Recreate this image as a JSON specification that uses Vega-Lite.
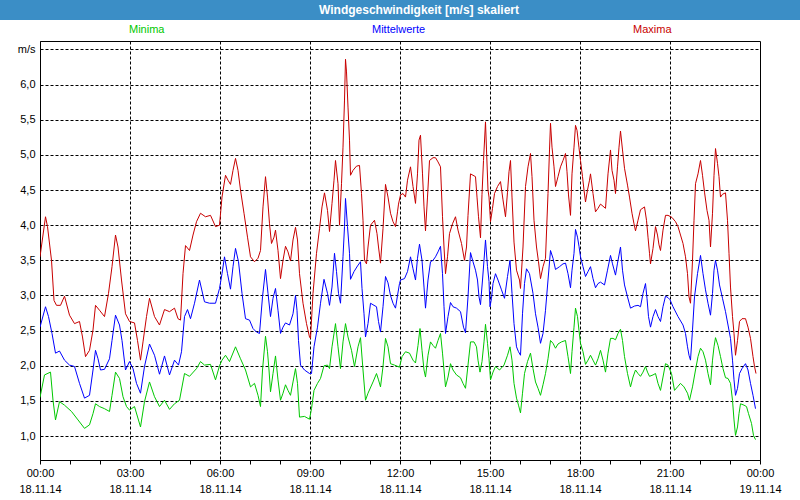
{
  "$schema": "https://vega.github.io/schema/vega-lite/v6.json",
  "autosize": {"type": "none"},
  "padding": {"left": 40, "top": 41, "right": 40, "bottom": 40},
  "background": "white",
  "width": 720,
  "height": 419,
  "view": {"stroke": "black", "strokeWidth": 1, "fill": "white"},
  "config": {"font": "Liberation Sans"},
  "data": {"values": [
{"s":"Maxima","t":0,"v":3.55},{"s":"Maxima","t":11,"v":4.12},{"s":"Maxima","t":15,"v":3.98},{"s":"Maxima","t":23,"v":3.5},{"s":"Maxima","t":28,"v":2.93},{"s":"Maxima","t":33,"v":2.86},{"s":"Maxima","t":41,"v":2.86},{"s":"Maxima","t":49,"v":2.99},{"s":"Maxima","t":59,"v":2.72},{"s":"Maxima","t":69,"v":2.6},{"s":"Maxima","t":79,"v":2.63},{"s":"Maxima","t":85,"v":2.41},{"s":"Maxima","t":91,"v":2.13},{"s":"Maxima","t":99,"v":2.22},{"s":"Maxima","t":106,"v":2.51},{"s":"Maxima","t":111,"v":2.86},{"s":"Maxima","t":119,"v":2.79},{"s":"Maxima","t":129,"v":2.7},{"s":"Maxima","t":137,"v":3.03},{"s":"Maxima","t":144,"v":3.41},{"s":"Maxima","t":151,"v":3.86},{"s":"Maxima","t":156,"v":3.69},{"s":"Maxima","t":163,"v":3.22},{"s":"Maxima","t":171,"v":2.74},{"s":"Maxima","t":179,"v":2.63},
{"s":"Maxima","t":189,"v":2.61},{"s":"Maxima","t":195,"v":2.36},{"s":"Maxima","t":201,"v":2.08},{"s":"Maxima","t":206,"v":2.34},{"s":"Maxima","t":213,"v":2.7},{"s":"Maxima","t":219,"v":2.96},{"s":"Maxima","t":229,"v":2.7},{"s":"Maxima","t":239,"v":2.58},{"s":"Maxima","t":249,"v":2.8},{"s":"Maxima","t":259,"v":2.77},{"s":"Maxima","t":269,"v":2.82},{"s":"Maxima","t":276,"v":2.67},{"s":"Maxima","t":281,"v":2.65},{"s":"Maxima","t":286,"v":3.31},{"s":"Maxima","t":291,"v":3.71},{"s":"Maxima","t":299,"v":3.64},{"s":"Maxima","t":306,"v":3.86},{"s":"Maxima","t":313,"v":4.05},{"s":"Maxima","t":321,"v":4.17},{"s":"Maxima","t":331,"v":4.12},{"s":"Maxima","t":341,"v":4.14},{"s":"Maxima","t":351,"v":3.98},{"s":"Maxima","t":359,"v":4.0},
{"s":"Maxima","t":364,"v":4.4},{"s":"Maxima","t":371,"v":4.71},{"s":"Maxima","t":376,"v":4.64},{"s":"Maxima","t":381,"v":4.58},{"s":"Maxima","t":386,"v":4.78},{"s":"Maxima","t":391,"v":4.95},{"s":"Maxima","t":396,"v":4.78},{"s":"Maxima","t":401,"v":4.5},{"s":"Maxima","t":408,"v":4.17},{"s":"Maxima","t":415,"v":3.83},{"s":"Maxima","t":421,"v":3.55},{"s":"Maxima","t":429,"v":3.48},{"s":"Maxima","t":436,"v":3.53},{"s":"Maxima","t":441,"v":3.64},{"s":"Maxima","t":446,"v":4.26},{"s":"Maxima","t":451,"v":4.69},{"s":"Maxima","t":455,"v":4.4},{"s":"Maxima","t":459,"v":4.02},{"s":"Maxima","t":463,"v":3.74},{"s":"Maxima","t":468,"v":3.83},{"s":"Maxima","t":471,"v":3.93},{"s":"Maxima","t":476,"v":3.64},{"s":"Maxima","t":481,"v":3.24},{"s":"Maxima","t":486,"v":3.5},{"s":"Maxima","t":491,"v":3.7},{"s":"Maxima","t":496,"v":3.62},{"s":"Maxima","t":501,"v":3.49},{"s":"Maxima","t":506,"v":3.79},{"s":"Maxima","t":511,"v":3.97},{"s":"Maxima","t":515,"v":3.79},{"s":"Maxima","t":519,"v":3.31},{"s":"Maxima","t":526,"v":2.89},{"s":"Maxima","t":533,"v":2.6},{"s":"Maxima","t":539,"v":2.41},
{"s":"Maxima","t":541,"v":2.39},{"s":"Maxima","t":546,"v":3.03},{"s":"Maxima","t":553,"v":3.6},{"s":"Maxima","t":559,"v":3.95},{"s":"Maxima","t":564,"v":4.26},{"s":"Maxima","t":569,"v":4.46},{"s":"Maxima","t":575,"v":4.21},{"s":"Maxima","t":579,"v":3.91},{"s":"Maxima","t":584,"v":4.31},{"s":"Maxima","t":588,"v":4.64},{"s":"Maxima","t":591,"v":4.92},{"s":"Maxima","t":596,"v":4.59},{"s":"Maxima","t":599,"v":4.0},{"s":"Maxima","t":603,"v":4.59},{"s":"Maxima","t":606,"v":5.11},{"s":"Maxima","t":609,"v":5.78},{"s":"Maxima","t":611,"v":6.36},{"s":"Maxima","t":613,"v":6.18},{"s":"Maxima","t":616,"v":5.68},{"s":"Maxima","t":619,"v":5.21},{"s":"Maxima","t":621,"v":4.71},{"s":"Maxima","t":626,"v":4.78},{"s":"Maxima","t":633,"v":4.84},{"s":"Maxima","t":639,"v":4.85},{"s":"Maxima","t":643,"v":4.45},{"s":"Maxima","t":646,"v":4.07},{"s":"Maxima","t":649,"v":3.5},{"s":"Maxima","t":653,"v":3.45},{"s":"Maxima","t":656,"v":3.69},{"s":"Maxima","t":661,"v":4.0},{"s":"Maxima","t":669,"v":4.07},{"s":"Maxima","t":674,"v":3.88},{"s":"Maxima","t":677,"v":3.69},{"s":"Maxima","t":681,"v":3.46},{"s":"Maxima","t":686,"v":3.95},{"s":"Maxima","t":691,"v":4.58},{"s":"Maxima","t":696,"v":4.4},{"s":"Maxima","t":701,"v":4.17},{"s":"Maxima","t":706,"v":4.05},{"s":"Maxima","t":711,"v":3.98},{"s":"Maxima","t":715,"v":4.19},{"s":"Maxima","t":717,"v":4.3},
{"s":"Maxima","t":721,"v":4.43},{"s":"Maxima","t":726,"v":4.45},{"s":"Maxima","t":731,"v":4.4},{"s":"Maxima","t":735,"v":4.64},{"s":"Maxima","t":741,"v":4.83},{"s":"Maxima","t":746,"v":4.55},{"s":"Maxima","t":751,"v":4.31},{"s":"Maxima","t":755,"v":4.73},{"s":"Maxima","t":758,"v":5.21},{"s":"Maxima","t":761,"v":5.28},{"s":"Maxima","t":765,"v":4.73},{"s":"Maxima","t":768,"v":4.26},{"s":"Maxima","t":771,"v":3.92},{"s":"Maxima","t":775,"v":4.4},{"s":"Maxima","t":779,"v":4.92},{"s":"Maxima","t":786,"v":4.96},{"s":"Maxima","t":791,"v":4.96},{"s":"Maxima","t":796,"v":4.9},{"s":"Maxima","t":801,"v":4.83},{"s":"Maxima","t":805,"v":4.12},{"s":"Maxima","t":808,"v":3.69},{"s":"Maxima","t":811,"v":3.31},{"s":"Maxima","t":815,"v":3.55},{"s":"Maxima","t":819,"v":3.88},{"s":"Maxima","t":825,"v":4.02},{"s":"Maxima","t":831,"v":4.12},{"s":"Maxima","t":836,"v":3.93},{"s":"Maxima","t":843,"v":3.74},{"s":"Maxima","t":849,"v":3.5},{"s":"Maxima","t":853,"v":3.69},{"s":"Maxima","t":856,"v":4.14},{"s":"Maxima","t":861,"v":4.73},{"s":"Maxima","t":866,"v":4.71},{"s":"Maxima","t":871,"v":4.69},{"s":"Maxima","t":874,"v":4.4},{"s":"Maxima","t":877,"v":4.12},{"s":"Maxima","t":881,"v":3.82},{"s":"Maxima","t":884,"v":4.44},{"s":"Maxima","t":887,"v":4.92},{"s":"Maxima","t":891,"v":5.47},{"s":"Maxima","t":893,"v":5.07},{"s":"Maxima","t":896,"v":4.5},{"s":"Maxima","t":898,"v":4.4},{"s":"Maxima","t":901,"v":4.05},
{"s":"Maxima","t":905,"v":4.24},{"s":"Maxima","t":909,"v":4.45},{"s":"Maxima","t":915,"v":4.55},{"s":"Maxima","t":921,"v":4.62},{"s":"Maxima","t":926,"v":4.36},{"s":"Maxima","t":931,"v":4.12},{"s":"Maxima","t":935,"v":4.47},{"s":"Maxima","t":938,"v":4.76},{"s":"Maxima","t":941,"v":4.92},{"s":"Maxima","t":944,"v":4.4},{"s":"Maxima","t":948,"v":3.76},{"s":"Maxima","t":953,"v":3.36},{"s":"Maxima","t":959,"v":3.22},{"s":"Maxima","t":961,"v":3.1},{"s":"Maxima","t":966,"v":3.69},{"s":"Maxima","t":971,"v":4.55},{"s":"Maxima","t":976,"v":4.83},{"s":"Maxima","t":981,"v":5.02},{"s":"Maxima","t":984,"v":4.69},{"s":"Maxima","t":988,"v":4.07},{"s":"Maxima","t":993,"v":3.69},{"s":"Maxima","t":997,"v":3.48},{"s":"Maxima","t":1001,"v":3.24},{"s":"Maxima","t":1006,"v":3.41},{"s":"Maxima","t":1011,"v":3.53},{"s":"Maxima","t":1016,"v":4.45},{"s":"Maxima","t":1019,"v":5.07},{"s":"Maxima","t":1021,"v":5.45},{"s":"Maxima","t":1024,"v":5.11},{"s":"Maxima","t":1028,"v":4.83},{"s":"Maxima","t":1031,"v":4.55},{"s":"Maxima","t":1036,"v":4.69},{"s":"Maxima","t":1041,"v":4.83},{"s":"Maxima","t":1046,"v":4.92},{"s":"Maxima","t":1051,"v":5.02},{"s":"Maxima","t":1054,"v":4.76},{"s":"Maxima","t":1057,"v":4.43},{"s":"Maxima","t":1061,"v":4.14},{"s":"Maxima","t":1064,"v":4.73},{"s":"Maxima","t":1068,"v":5.11},{"s":"Maxima","t":1071,"v":5.42},{"s":"Maxima","t":1074,"v":5.35},{"s":"Maxima","t":1078,"v":5.1},
{"s":"Maxima","t":1081,"v":4.92},{"s":"Maxima","t":1085,"v":4.69},{"s":"Maxima","t":1088,"v":4.5},{"s":"Maxima","t":1091,"v":4.33},{"s":"Maxima","t":1095,"v":4.5},{"s":"Maxima","t":1099,"v":4.64},{"s":"Maxima","t":1101,"v":4.73},{"s":"Maxima","t":1106,"v":4.45},{"s":"Maxima","t":1111,"v":4.19},{"s":"Maxima","t":1116,"v":4.24},{"s":"Maxima","t":1121,"v":4.3},{"s":"Maxima","t":1131,"v":4.24},{"s":"Maxima","t":1136,"v":4.73},{"s":"Maxima","t":1141,"v":5.07},{"s":"Maxima","t":1144,"v":4.78},{"s":"Maxima","t":1148,"v":4.64},{"s":"Maxima","t":1151,"v":4.45},{"s":"Maxima","t":1155,"v":4.83},{"s":"Maxima","t":1158,"v":5.11},{"s":"Maxima","t":1161,"v":5.34},{"s":"Maxima","t":1165,"v":5.07},{"s":"Maxima","t":1169,"v":4.81},{"s":"Maxima","t":1175,"v":4.57},{"s":"Maxima","t":1179,"v":4.4},{"s":"Maxima","t":1184,"v":4.17},{"s":"Maxima","t":1188,"v":4.02},{"s":"Maxima","t":1191,"v":3.92},{"s":"Maxima","t":1196,"v":4.07},{"s":"Maxima","t":1201,"v":4.22},{"s":"Maxima","t":1209,"v":4.26},{"s":"Maxima","t":1213,"v":4.07},{"s":"Maxima","t":1216,"v":3.83},{"s":"Maxima","t":1219,"v":3.6},{"s":"Maxima","t":1221,"v":3.45},{"s":"Maxima","t":1226,"v":3.67},{"s":"Maxima","t":1231,"v":3.98},{"s":"Maxima","t":1235,"v":3.86},{"s":"Maxima","t":1238,"v":3.72},{"s":"Maxima","t":1241,"v":3.64},{"s":"Maxima","t":1246,"v":3.93},{"s":"Maxima","t":1251,"v":4.14},{"s":"Maxima","t":1256,"v":4.14},
{"s":"Maxima","t":1264,"v":4.11},{"s":"Maxima","t":1271,"v":4.05},{"s":"Maxima","t":1276,"v":3.98},{"s":"Maxima","t":1281,"v":3.86},{"s":"Maxima","t":1286,"v":3.74},{"s":"Maxima","t":1291,"v":3.55},{"s":"Maxima","t":1295,"v":3.31},{"s":"Maxima","t":1298,"v":2.98},{"s":"Maxima","t":1301,"v":2.89},{"s":"Maxima","t":1305,"v":3.5},{"s":"Maxima","t":1308,"v":4.07},{"s":"Maxima","t":1311,"v":4.59},{"s":"Maxima","t":1316,"v":4.73},{"s":"Maxima","t":1321,"v":4.92},{"s":"Maxima","t":1325,"v":4.71},{"s":"Maxima","t":1329,"v":4.47},{"s":"Maxima","t":1334,"v":4.21},{"s":"Maxima","t":1338,"v":4.07},{"s":"Maxima","t":1341,"v":3.69},{"s":"Maxima","t":1345,"v":4.17},{"s":"Maxima","t":1348,"v":4.71},{"s":"Maxima","t":1351,"v":5.09},{"s":"Maxima","t":1355,"v":4.88},{"s":"Maxima","t":1358,"v":4.69},{"s":"Maxima","t":1361,"v":4.4},{"s":"Maxima","t":1365,"v":4.44},{"s":"Maxima","t":1371,"v":4.46},{"s":"Maxima","t":1375,"v":4.07},{"s":"Maxima","t":1378,"v":3.6},{"s":"Maxima","t":1381,"v":3.12},{"s":"Maxima","t":1385,"v":2.7},{"s":"Maxima","t":1388,"v":2.46},{"s":"Maxima","t":1391,"v":2.15},{"s":"Maxima","t":1395,"v":2.36},{"s":"Maxima","t":1399,"v":2.63},{"s":"Maxima","t":1404,"v":2.67},{"s":"Maxima","t":1411,"v":2.67},{"s":"Maxima","t":1416,"v":2.55},{"s":"Maxima","t":1421,"v":2.39},{"s":"Maxima","t":1426,"v":2.13},{"s":"Maxima","t":1429,"v":1.99},{"s":"Maxima","t":1432,"v":1.89},
{"s":"Mittelwerte","t":0,"v":2.55},{"s":"Mittelwerte","t":11,"v":2.84},{"s":"Mittelwerte","t":17,"v":2.7},{"s":"Mittelwerte","t":24,"v":2.46},{"s":"Mittelwerte","t":31,"v":2.18},{"s":"Mittelwerte","t":39,"v":2.21},{"s":"Mittelwerte","t":49,"v":2.08},{"s":"Mittelwerte","t":59,"v":2.01},{"s":"Mittelwerte","t":69,"v":1.99},{"s":"Mittelwerte","t":79,"v":1.75},{"s":"Mittelwerte","t":89,"v":1.54},{"s":"Mittelwerte","t":99,"v":1.58},{"s":"Mittelwerte","t":106,"v":1.94},{"s":"Mittelwerte","t":111,"v":2.22},{"s":"Mittelwerte","t":116,"v":2.1},{"s":"Mittelwerte","t":121,"v":1.94},{"s":"Mittelwerte","t":129,"v":1.95},{"s":"Mittelwerte","t":139,"v":2.1},{"s":"Mittelwerte","t":144,"v":2.36},{"s":"Mittelwerte","t":151,"v":2.72},{"s":"Mittelwerte","t":159,"v":2.58},{"s":"Mittelwerte","t":164,"v":2.36},{"s":"Mittelwerte","t":171,"v":1.94},{"s":"Mittelwerte","t":179,"v":2.06},
{"s":"Mittelwerte","t":186,"v":1.96},{"s":"Mittelwerte","t":193,"v":1.75},{"s":"Mittelwerte","t":201,"v":1.61},{"s":"Mittelwerte","t":209,"v":1.99},{"s":"Mittelwerte","t":219,"v":2.31},{"s":"Mittelwerte","t":229,"v":2.15},{"s":"Mittelwerte","t":239,"v":1.88},{"s":"Mittelwerte","t":249,"v":2.14},{"s":"Mittelwerte","t":259,"v":1.87},{"s":"Mittelwerte","t":269,"v":2.08},{"s":"Mittelwerte","t":277,"v":2.01},{"s":"Mittelwerte","t":283,"v":2.2},{"s":"Mittelwerte","t":289,"v":2.7},{"s":"Mittelwerte","t":295,"v":2.8},{"s":"Mittelwerte","t":301,"v":2.67},{"s":"Mittelwerte","t":309,"v":2.89},{"s":"Mittelwerte","t":319,"v":3.22},{"s":"Mittelwerte","t":329,"v":2.91},{"s":"Mittelwerte","t":339,"v":2.89},{"s":"Mittelwerte","t":351,"v":2.89},{"s":"Mittelwerte","t":359,"v":3.1},
{"s":"Mittelwerte","t":364,"v":3.31},{"s":"Mittelwerte","t":369,"v":3.55},{"s":"Mittelwerte","t":375,"v":3.31},{"s":"Mittelwerte","t":381,"v":3.09},{"s":"Mittelwerte","t":386,"v":3.41},{"s":"Mittelwerte","t":391,"v":3.67},{"s":"Mittelwerte","t":397,"v":3.48},{"s":"Mittelwerte","t":404,"v":3.03},{"s":"Mittelwerte","t":411,"v":2.67},{"s":"Mittelwerte","t":419,"v":2.65},{"s":"Mittelwerte","t":426,"v":2.53},{"s":"Mittelwerte","t":433,"v":2.48},{"s":"Mittelwerte","t":439,"v":2.46},{"s":"Mittelwerte","t":445,"v":2.98},{"s":"Mittelwerte","t":451,"v":3.37},{"s":"Mittelwerte","t":456,"v":3.03},{"s":"Mittelwerte","t":461,"v":2.7},{"s":"Mittelwerte","t":466,"v":2.96},{"s":"Mittelwerte","t":471,"v":3.1},{"s":"Mittelwerte","t":476,"v":2.79},{"s":"Mittelwerte","t":481,"v":2.46},{"s":"Mittelwerte","t":486,"v":2.55},{"s":"Mittelwerte","t":491,"v":2.61},{"s":"Mittelwerte","t":499,"v":2.58},{"s":"Mittelwerte","t":506,"v":2.74},{"s":"Mittelwerte","t":511,"v":3.0},{"s":"Mittelwerte","t":514,"v":2.79},{"s":"Mittelwerte","t":517,"v":2.36},{"s":"Mittelwerte","t":521,"v":2.01},{"s":"Mittelwerte","t":529,"v":1.94},{"s":"Mittelwerte","t":539,"v":1.89},
{"s":"Mittelwerte","t":543,"v":1.89},{"s":"Mittelwerte","t":548,"v":2.27},{"s":"Mittelwerte","t":555,"v":2.55},{"s":"Mittelwerte","t":561,"v":2.89},{"s":"Mittelwerte","t":568,"v":3.23},{"s":"Mittelwerte","t":575,"v":3.03},{"s":"Mittelwerte","t":579,"v":2.86},{"s":"Mittelwerte","t":584,"v":3.12},{"s":"Mittelwerte","t":589,"v":3.6},{"s":"Mittelwerte","t":593,"v":3.34},{"s":"Mittelwerte","t":597,"v":3.03},{"s":"Mittelwerte","t":601,"v":2.89},{"s":"Mittelwerte","t":606,"v":3.55},{"s":"Mittelwerte","t":609,"v":3.98},{"s":"Mittelwerte","t":611,"v":4.38},{"s":"Mittelwerte","t":615,"v":3.98},{"s":"Mittelwerte","t":619,"v":3.6},{"s":"Mittelwerte","t":621,"v":3.23},{"s":"Mittelwerte","t":628,"v":3.34},{"s":"Mittelwerte","t":635,"v":3.42},{"s":"Mittelwerte","t":641,"v":3.48},{"s":"Mittelwerte","t":644,"v":3.1},{"s":"Mittelwerte","t":648,"v":2.74},{"s":"Mittelwerte","t":651,"v":2.41},{"s":"Mittelwerte","t":656,"v":2.6},{"s":"Mittelwerte","t":661,"v":2.89},{"s":"Mittelwerte","t":668,"v":2.86},{"s":"Mittelwerte","t":673,"v":2.84},{"s":"Mittelwerte","t":677,"v":2.63},{"s":"Mittelwerte","t":681,"v":2.48},{"s":"Mittelwerte","t":686,"v":2.84},{"s":"Mittelwerte","t":691,"v":3.27},{"s":"Mittelwerte","t":696,"v":3.18},{"s":"Mittelwerte","t":701,"v":3.0},{"s":"Mittelwerte","t":706,"v":2.89},{"s":"Mittelwerte","t":711,"v":2.82},{"s":"Mittelwerte","t":715,"v":3.0},{"s":"Mittelwerte","t":719,"v":3.17},
{"s":"Mittelwerte","t":721,"v":3.22},{"s":"Mittelwerte","t":729,"v":3.24},{"s":"Mittelwerte","t":735,"v":3.34},{"s":"Mittelwerte","t":741,"v":3.55},{"s":"Mittelwerte","t":746,"v":3.38},{"s":"Mittelwerte","t":751,"v":3.22},{"s":"Mittelwerte","t":755,"v":3.53},{"s":"Mittelwerte","t":759,"v":3.73},{"s":"Mittelwerte","t":764,"v":3.5},{"s":"Mittelwerte","t":768,"v":3.12},{"s":"Mittelwerte","t":771,"v":2.82},{"s":"Mittelwerte","t":776,"v":3.22},{"s":"Mittelwerte","t":781,"v":3.48},{"s":"Mittelwerte","t":786,"v":3.5},{"s":"Mittelwerte","t":791,"v":3.55},{"s":"Mittelwerte","t":796,"v":3.62},{"s":"Mittelwerte","t":801,"v":3.7},{"s":"Mittelwerte","t":805,"v":3.31},{"s":"Mittelwerte","t":808,"v":2.84},{"s":"Mittelwerte","t":811,"v":2.46},{"s":"Mittelwerte","t":816,"v":2.7},{"s":"Mittelwerte","t":821,"v":2.9},{"s":"Mittelwerte","t":826,"v":2.84},{"s":"Mittelwerte","t":833,"v":2.82},{"s":"Mittelwerte","t":841,"v":2.77},{"s":"Mittelwerte","t":847,"v":2.55},{"s":"Mittelwerte","t":851,"v":2.47},{"s":"Mittelwerte","t":856,"v":2.98},{"s":"Mittelwerte","t":861,"v":3.61},{"s":"Mittelwerte","t":866,"v":3.48},{"s":"Mittelwerte","t":871,"v":3.36},{"s":"Mittelwerte","t":875,"v":3.22},{"s":"Mittelwerte","t":878,"v":2.98},{"s":"Mittelwerte","t":881,"v":2.87},{"s":"Mittelwerte","t":885,"v":3.22},{"s":"Mittelwerte","t":888,"v":3.5},{"s":"Mittelwerte","t":891,"v":3.79},{"s":"Mittelwerte","t":895,"v":3.41},{"s":"Mittelwerte","t":898,"v":3.2},{"s":"Mittelwerte","t":900,"v":2.84},
{"s":"Mittelwerte","t":903,"v":2.96},{"s":"Mittelwerte","t":906,"v":3.17},{"s":"Mittelwerte","t":911,"v":3.31},{"s":"Mittelwerte","t":916,"v":3.22},{"s":"Mittelwerte","t":923,"v":3.08},{"s":"Mittelwerte","t":929,"v":2.96},{"s":"Mittelwerte","t":935,"v":3.27},{"s":"Mittelwerte","t":940,"v":3.5},{"s":"Mittelwerte","t":944,"v":3.03},{"s":"Mittelwerte","t":948,"v":2.6},{"s":"Mittelwerte","t":953,"v":2.27},{"s":"Mittelwerte","t":957,"v":2.2},{"s":"Mittelwerte","t":961,"v":2.15},{"s":"Mittelwerte","t":965,"v":2.74},{"s":"Mittelwerte","t":969,"v":3.17},{"s":"Mittelwerte","t":973,"v":3.38},{"s":"Mittelwerte","t":979,"v":3.31},{"s":"Mittelwerte","t":986,"v":3.03},{"s":"Mittelwerte","t":991,"v":2.74},{"s":"Mittelwerte","t":996,"v":2.55},{"s":"Mittelwerte","t":1001,"v":2.32},{"s":"Mittelwerte","t":1006,"v":2.46},{"s":"Mittelwerte","t":1011,"v":2.79},{"s":"Mittelwerte","t":1016,"v":3.22},{"s":"Mittelwerte","t":1021,"v":3.64},{"s":"Mittelwerte","t":1026,"v":3.53},{"s":"Mittelwerte","t":1031,"v":3.37},{"s":"Mittelwerte","t":1039,"v":3.41},{"s":"Mittelwerte","t":1046,"v":3.45},{"s":"Mittelwerte","t":1051,"v":3.46},{"s":"Mittelwerte","t":1056,"v":3.31},{"s":"Mittelwerte","t":1061,"v":3.11},{"s":"Mittelwerte","t":1064,"v":3.36},{"s":"Mittelwerte","t":1068,"v":3.6},{"s":"Mittelwerte","t":1071,"v":3.94},{"s":"Mittelwerte","t":1075,"v":3.83},{"s":"Mittelwerte","t":1078,"v":3.7},
{"s":"Mittelwerte","t":1081,"v":3.55},{"s":"Mittelwerte","t":1086,"v":3.41},{"s":"Mittelwerte","t":1091,"v":3.27},{"s":"Mittelwerte","t":1096,"v":3.34},{"s":"Mittelwerte","t":1101,"v":3.41},{"s":"Mittelwerte","t":1106,"v":3.24},{"s":"Mittelwerte","t":1111,"v":3.11},{"s":"Mittelwerte","t":1116,"v":3.17},{"s":"Mittelwerte","t":1121,"v":3.19},{"s":"Mittelwerte","t":1129,"v":3.15},{"s":"Mittelwerte","t":1135,"v":3.36},{"s":"Mittelwerte","t":1141,"v":3.57},{"s":"Mittelwerte","t":1145,"v":3.45},{"s":"Mittelwerte","t":1151,"v":3.29},{"s":"Mittelwerte","t":1155,"v":3.46},{"s":"Mittelwerte","t":1161,"v":3.69},{"s":"Mittelwerte","t":1165,"v":3.36},{"s":"Mittelwerte","t":1169,"v":3.15},{"s":"Mittelwerte","t":1175,"v":2.98},{"s":"Mittelwerte","t":1181,"v":2.82},{"s":"Mittelwerte","t":1189,"v":2.85},{"s":"Mittelwerte","t":1196,"v":2.86},{"s":"Mittelwerte","t":1201,"v":2.84},{"s":"Mittelwerte","t":1206,"v":3.03},{"s":"Mittelwerte","t":1211,"v":3.17},{"s":"Mittelwerte","t":1214,"v":2.96},{"s":"Mittelwerte","t":1217,"v":2.7},{"s":"Mittelwerte","t":1221,"v":2.55},{"s":"Mittelwerte","t":1226,"v":2.7},{"s":"Mittelwerte","t":1231,"v":2.8},{"s":"Mittelwerte","t":1236,"v":2.7},{"s":"Mittelwerte","t":1241,"v":2.63},{"s":"Mittelwerte","t":1246,"v":2.84},{"s":"Mittelwerte","t":1251,"v":2.99},{"s":"Mittelwerte","t":1256,"v":2.97},
{"s":"Mittelwerte","t":1260,"v":2.94},{"s":"Mittelwerte","t":1266,"v":2.84},{"s":"Mittelwerte","t":1276,"v":2.7},{"s":"Mittelwerte","t":1286,"v":2.58},{"s":"Mittelwerte","t":1291,"v":2.46},{"s":"Mittelwerte","t":1295,"v":2.27},{"s":"Mittelwerte","t":1298,"v":2.15},{"s":"Mittelwerte","t":1301,"v":2.08},{"s":"Mittelwerte","t":1305,"v":2.51},{"s":"Mittelwerte","t":1309,"v":2.98},{"s":"Mittelwerte","t":1315,"v":3.31},{"s":"Mittelwerte","t":1321,"v":3.57},{"s":"Mittelwerte","t":1326,"v":3.31},{"s":"Mittelwerte","t":1331,"v":3.08},{"s":"Mittelwerte","t":1336,"v":2.89},{"s":"Mittelwerte","t":1341,"v":2.72},{"s":"Mittelwerte","t":1345,"v":3.03},{"s":"Mittelwerte","t":1348,"v":3.36},{"s":"Mittelwerte","t":1351,"v":3.5},{"s":"Mittelwerte","t":1355,"v":3.36},{"s":"Mittelwerte","t":1359,"v":3.15},{"s":"Mittelwerte","t":1365,"v":2.96},{"s":"Mittelwerte","t":1371,"v":2.77},{"s":"Mittelwerte","t":1376,"v":2.58},{"s":"Mittelwerte","t":1381,"v":2.39},{"s":"Mittelwerte","t":1385,"v":2.08},{"s":"Mittelwerte","t":1388,"v":1.8},{"s":"Mittelwerte","t":1391,"v":1.58},{"s":"Mittelwerte","t":1395,"v":1.68},{"s":"Mittelwerte","t":1399,"v":1.89},{"s":"Mittelwerte","t":1404,"v":1.96},{"s":"Mittelwerte","t":1411,"v":2.03},{"s":"Mittelwerte","t":1416,"v":1.94},{"s":"Mittelwerte","t":1421,"v":1.75},{"s":"Mittelwerte","t":1426,"v":1.58},{"s":"Mittelwerte","t":1431,"v":1.39},
{"s":"Minima","t":0,"v":1.55},{"s":"Minima","t":9,"v":1.87},{"s":"Minima","t":21,"v":1.91},{"s":"Minima","t":26,"v":1.51},{"s":"Minima","t":31,"v":1.23},{"s":"Minima","t":39,"v":1.49},{"s":"Minima","t":49,"v":1.44},{"s":"Minima","t":63,"v":1.35},{"s":"Minima","t":76,"v":1.23},{"s":"Minima","t":89,"v":1.11},{"s":"Minima","t":99,"v":1.16},{"s":"Minima","t":106,"v":1.32},{"s":"Minima","t":111,"v":1.46},{"s":"Minima","t":119,"v":1.42},{"s":"Minima","t":129,"v":1.39},{"s":"Minima","t":139,"v":1.35},{"s":"Minima","t":144,"v":1.58},{"s":"Minima","t":151,"v":1.91},{"s":"Minima","t":159,"v":1.82},{"s":"Minima","t":166,"v":1.56},{"s":"Minima","t":173,"v":1.42},{"s":"Minima","t":179,"v":1.37},
{"s":"Minima","t":189,"v":1.42},{"s":"Minima","t":201,"v":1.13},{"s":"Minima","t":209,"v":1.49},{"s":"Minima","t":219,"v":1.77},{"s":"Minima","t":229,"v":1.56},{"s":"Minima","t":239,"v":1.42},{"s":"Minima","t":249,"v":1.51},{"s":"Minima","t":259,"v":1.38},{"s":"Minima","t":269,"v":1.46},{"s":"Minima","t":279,"v":1.51},{"s":"Minima","t":289,"v":1.89},{"s":"Minima","t":299,"v":1.85},{"s":"Minima","t":313,"v":1.96},{"s":"Minima","t":321,"v":2.06},{"s":"Minima","t":329,"v":2.01},{"s":"Minima","t":341,"v":2.02},{"s":"Minima","t":351,"v":1.8},{"s":"Minima","t":359,"v":2.0},
{"s":"Minima","t":364,"v":2.08},{"s":"Minima","t":371,"v":2.15},{"s":"Minima","t":379,"v":2.06},{"s":"Minima","t":391,"v":2.27},{"s":"Minima","t":401,"v":2.1},{"s":"Minima","t":411,"v":1.94},{"s":"Minima","t":421,"v":1.7},{"s":"Minima","t":429,"v":1.75},{"s":"Minima","t":436,"v":1.58},{"s":"Minima","t":441,"v":1.42},{"s":"Minima","t":445,"v":1.94},{"s":"Minima","t":451,"v":2.42},{"s":"Minima","t":455,"v":2.2},{"s":"Minima","t":458,"v":1.94},{"s":"Minima","t":461,"v":1.63},{"s":"Minima","t":466,"v":1.89},{"s":"Minima","t":471,"v":2.14},{"s":"Minima","t":476,"v":1.8},{"s":"Minima","t":481,"v":1.51},{"s":"Minima","t":486,"v":1.61},{"s":"Minima","t":491,"v":1.73},{"s":"Minima","t":496,"v":1.65},{"s":"Minima","t":501,"v":1.58},{"s":"Minima","t":506,"v":1.77},{"s":"Minima","t":511,"v":1.96},{"s":"Minima","t":515,"v":1.75},{"s":"Minima","t":519,"v":1.27},{"s":"Minima","t":529,"v":1.28},{"s":"Minima","t":539,"v":1.24},
{"s":"Minima","t":543,"v":1.39},{"s":"Minima","t":548,"v":1.65},{"s":"Minima","t":555,"v":1.75},{"s":"Minima","t":561,"v":1.82},{"s":"Minima","t":568,"v":2.0},{"s":"Minima","t":575,"v":2.01},{"s":"Minima","t":579,"v":1.96},{"s":"Minima","t":584,"v":2.27},{"s":"Minima","t":591,"v":2.6},{"s":"Minima","t":596,"v":2.27},{"s":"Minima","t":601,"v":1.96},{"s":"Minima","t":606,"v":2.34},{"s":"Minima","t":611,"v":2.6},{"s":"Minima","t":616,"v":2.41},{"s":"Minima","t":623,"v":2.22},{"s":"Minima","t":629,"v":1.99},{"s":"Minima","t":636,"v":2.27},{"s":"Minima","t":641,"v":2.4},{"s":"Minima","t":646,"v":1.94},{"s":"Minima","t":651,"v":1.51},{"s":"Minima","t":656,"v":1.61},{"s":"Minima","t":666,"v":1.77},{"s":"Minima","t":673,"v":1.89},{"s":"Minima","t":677,"v":1.8},{"s":"Minima","t":681,"v":1.7},{"s":"Minima","t":686,"v":1.99},{"s":"Minima","t":691,"v":2.39},{"s":"Minima","t":696,"v":2.27},{"s":"Minima","t":701,"v":2.03},{"s":"Minima","t":709,"v":2.01},{"s":"Minima","t":719,"v":1.98},
{"s":"Minima","t":724,"v":2.13},{"s":"Minima","t":731,"v":2.2},{"s":"Minima","t":739,"v":2.18},{"s":"Minima","t":746,"v":2.08},{"s":"Minima","t":751,"v":2.04},{"s":"Minima","t":756,"v":2.29},{"s":"Minima","t":760,"v":2.53},{"s":"Minima","t":764,"v":2.22},{"s":"Minima","t":768,"v":1.94},{"s":"Minima","t":771,"v":1.84},{"s":"Minima","t":776,"v":2.15},{"s":"Minima","t":781,"v":2.34},{"s":"Minima","t":786,"v":2.29},{"s":"Minima","t":791,"v":2.25},{"s":"Minima","t":796,"v":2.36},{"s":"Minima","t":801,"v":2.46},{"s":"Minima","t":805,"v":2.18},{"s":"Minima","t":808,"v":1.94},{"s":"Minima","t":811,"v":1.7},{"s":"Minima","t":816,"v":1.84},{"s":"Minima","t":821,"v":2.03},{"s":"Minima","t":826,"v":1.94},{"s":"Minima","t":833,"v":1.87},{"s":"Minima","t":841,"v":1.83},{"s":"Minima","t":846,"v":1.75},{"s":"Minima","t":851,"v":1.68},{"s":"Minima","t":856,"v":2.01},{"s":"Minima","t":861,"v":2.34},{"s":"Minima","t":868,"v":2.34},{"s":"Minima","t":873,"v":2.27},{"s":"Minima","t":876,"v":2.08},{"s":"Minima","t":880,"v":1.91},{"s":"Minima","t":884,"v":2.06},{"s":"Minima","t":888,"v":2.34},{"s":"Minima","t":891,"v":2.59},{"s":"Minima","t":895,"v":2.32},{"s":"Minima","t":898,"v":2.1},{"s":"Minima","t":901,"v":1.8},
{"s":"Minima","t":906,"v":1.91},{"s":"Minima","t":911,"v":1.99},{"s":"Minima","t":919,"v":1.94},{"s":"Minima","t":928,"v":2.01},{"s":"Minima","t":935,"v":2.15},{"s":"Minima","t":940,"v":2.27},{"s":"Minima","t":944,"v":2.08},{"s":"Minima","t":948,"v":1.75},{"s":"Minima","t":953,"v":1.54},{"s":"Minima","t":957,"v":1.44},{"s":"Minima","t":961,"v":1.33},{"s":"Minima","t":965,"v":1.61},{"s":"Minima","t":969,"v":1.89},{"s":"Minima","t":975,"v":2.06},{"s":"Minima","t":981,"v":2.18},{"s":"Minima","t":986,"v":1.96},{"s":"Minima","t":991,"v":1.77},{"s":"Minima","t":996,"v":1.68},{"s":"Minima","t":1001,"v":1.58},{"s":"Minima","t":1006,"v":1.73},{"s":"Minima","t":1011,"v":1.89},{"s":"Minima","t":1016,"v":2.1},{"s":"Minima","t":1021,"v":2.36},{"s":"Minima","t":1026,"v":2.32},{"s":"Minima","t":1031,"v":2.25},{"s":"Minima","t":1036,"v":2.31},{"s":"Minima","t":1043,"v":2.34},{"s":"Minima","t":1051,"v":2.36},{"s":"Minima","t":1056,"v":2.13},{"s":"Minima","t":1061,"v":1.89},{"s":"Minima","t":1064,"v":2.2},{"s":"Minima","t":1068,"v":2.55},{"s":"Minima","t":1071,"v":2.82},{"s":"Minima","t":1075,"v":2.7},{"s":"Minima","t":1078,"v":2.5},
{"s":"Minima","t":1081,"v":2.32},{"s":"Minima","t":1086,"v":2.2},{"s":"Minima","t":1091,"v":2.02},{"s":"Minima","t":1096,"v":2.08},{"s":"Minima","t":1101,"v":2.15},{"s":"Minima","t":1106,"v":2.08},{"s":"Minima","t":1111,"v":2.01},{"s":"Minima","t":1116,"v":2.1},{"s":"Minima","t":1121,"v":2.22},{"s":"Minima","t":1126,"v":2.08},{"s":"Minima","t":1131,"v":1.91},{"s":"Minima","t":1136,"v":2.18},{"s":"Minima","t":1141,"v":2.39},{"s":"Minima","t":1146,"v":2.39},{"s":"Minima","t":1151,"v":2.37},{"s":"Minima","t":1156,"v":2.46},{"s":"Minima","t":1161,"v":2.52},{"s":"Minima","t":1165,"v":2.36},{"s":"Minima","t":1169,"v":2.13},{"s":"Minima","t":1175,"v":1.89},{"s":"Minima","t":1181,"v":1.7},{"s":"Minima","t":1186,"v":1.84},{"s":"Minima","t":1191,"v":1.94},{"s":"Minima","t":1196,"v":1.89},{"s":"Minima","t":1201,"v":1.85},{"s":"Minima","t":1206,"v":1.91},{"s":"Minima","t":1211,"v":1.99},{"s":"Minima","t":1215,"v":1.91},{"s":"Minima","t":1219,"v":1.85},{"s":"Minima","t":1226,"v":1.87},{"s":"Minima","t":1231,"v":1.89},{"s":"Minima","t":1236,"v":1.75},{"s":"Minima","t":1241,"v":1.65},{"s":"Minima","t":1246,"v":1.84},{"s":"Minima","t":1251,"v":2.03},{"s":"Minima","t":1256,"v":2.01},
{"s":"Minima","t":1263,"v":1.89},{"s":"Minima","t":1269,"v":1.65},{"s":"Minima","t":1275,"v":1.7},{"s":"Minima","t":1281,"v":1.75},{"s":"Minima","t":1288,"v":1.7},{"s":"Minima","t":1295,"v":1.61},{"s":"Minima","t":1299,"v":1.51},{"s":"Minima","t":1305,"v":1.7},{"s":"Minima","t":1311,"v":1.94},{"s":"Minima","t":1316,"v":2.13},{"s":"Minima","t":1321,"v":2.25},{"s":"Minima","t":1326,"v":2.2},{"s":"Minima","t":1331,"v":2.08},{"s":"Minima","t":1336,"v":1.89},{"s":"Minima","t":1341,"v":1.73},{"s":"Minima","t":1345,"v":2.08},{"s":"Minima","t":1348,"v":2.27},{"s":"Minima","t":1351,"v":2.4},{"s":"Minima","t":1356,"v":2.29},{"s":"Minima","t":1361,"v":2.13},{"s":"Minima","t":1366,"v":1.96},{"s":"Minima","t":1371,"v":1.83},{"s":"Minima","t":1376,"v":1.82},{"s":"Minima","t":1381,"v":1.75},{"s":"Minima","t":1385,"v":1.51},{"s":"Minima","t":1388,"v":1.23},{"s":"Minima","t":1391,"v":1.01},{"s":"Minima","t":1395,"v":1.13},{"s":"Minima","t":1398,"v":1.32},{"s":"Minima","t":1401,"v":1.46},{"s":"Minima","t":1408,"v":1.44},{"s":"Minima","t":1413,"v":1.42},{"s":"Minima","t":1417,"v":1.32},{"s":"Minima","t":1423,"v":1.18},{"s":"Minima","t":1427,"v":1.01},{"s":"Minima","t":1431,"v":0.95}
  ]},
  "encoding": {
    "y": {
      "field": "v", "type": "quantitative",
      "scale": {"domain": [0.66, 6.62], "nice": false, "zero": false},
      "axis": {
        "title": null,
        "values": [1, 1.5, 2, 2.5, 3, 3.5, 4, 4.5, 5, 5.5, 6, 6.5],
        "grid": true, "gridColor": "black", "gridDash": [3, 2], "gridWidth": 1,
        "domain": true, "domainColor": "black",
        "ticks": false,
        "labelExpr": "datum.value >= 6.5 ? 'm/s' : replace(format(datum.value, '.1f'), '.', ',')",
        "labelFont": "Liberation Sans", "labelFontSize": 11, "labelColor": "black",
        "labelPadding": 5, "labelOverlap": false, "labelFlush": false,
        "minExtent": 40, "maxExtent": 40
      }
    }
  },
  "layer": [
    {
      "mark": {"type": "line", "strokeWidth": 1, "clip": true},
      "encoding": {
        "x": {
          "field": "t", "type": "quantitative",
          "scale": {"domain": [0, 1440], "nice": false, "zero": false},
          "axis": {
            "orient": "bottom",
            "title": null,
            "values": [0,60,120,180,240,300,360,420,480,540,600,660,720,780,840,900,960,1020,1080,1140,1200,1260,1320,1380,1440],
            "grid": true, "gridColor": "black", "gridDash": [3, 2], "gridWidth": 1,
            "gridOpacity": {"condition": {"test": "datum.value % 180 === 0 && datum.value > 0 && datum.value < 1440", "value": 1}, "value": 0},
            "domain": true, "domainColor": "black", "domainWidth": 1,
            "ticks": true, "tickColor": "black", "tickSize": 4, "tickWidth": 1,
            "labelExpr": "datum.value % 180 === 0 ? [(floor(datum.value / 60) % 24 < 10 ? '0' : '') + (floor(datum.value / 60) % 24) + ':00', datum.value >= 1440 ? '19.11.14' : '18.11.14'] : ''",
            "labelFont": "Liberation Sans", "labelFontSize": 11, "labelColor": "black",
            "labelPadding": 3, "labelLineHeight": 16, "labelOverlap": false, "labelFlush": false, "labelBound": false
          }
        },
        "color": {
          "field": "s", "type": "nominal",
          "scale": {"domain": ["Minima", "Mittelwerte", "Maxima"], "range": ["#00c800", "#0000ff", "#c80000"]},
          "legend": {
            "orient": "none", "legendX": 78, "legendY": -17,
            "direction": "horizontal", "title": null,
            "symbolSize": 0, "symbolOpacity": 0, "symbolStrokeWidth": 0,
            "labelOffset": 0, "columnPadding": 196, "padding": 0,
            "labelFont": "Liberation Sans", "labelFontSize": 11,
            "labelColor": {"expr": "datum.value === 'Minima' ? '#00c800' : datum.value === 'Maxima' ? '#c80000' : '#0000ff'"}
          }
        }
      }
    },
    {
      "mark": {"type": "line", "opacity": 0},
      "encoding": {
        "x": {
          "field": "t", "type": "quantitative",
          "scale": {"domain": [0, 1440], "nice": false, "zero": false},
          "axis": {
            "orient": "top",
            "values": [720],
            "domain": false, "grid": false, "labels": false,
            "ticks": true, "tickSize": 20, "tickWidth": 800, "tickColor": "#3b8ec6", "tickRound": false,
            "translate": 0,
            "offset": 21,
            "title": "Windgeschwindigkeit [m/s] skaliert",
            "titleColor": "white", "titleFont": "Liberation Sans", "titleFontSize": 12, "titleFontWeight": "bold",
            "titleX": 379, "titleY": -10, "titleBaseline": "middle", "titleAlign": "center"
          }
        },
        "detail": {"field": "s", "type": "nominal"}
      }
    }
  ],
  "resolve": {"axis": {"x": "independent"}}
}
